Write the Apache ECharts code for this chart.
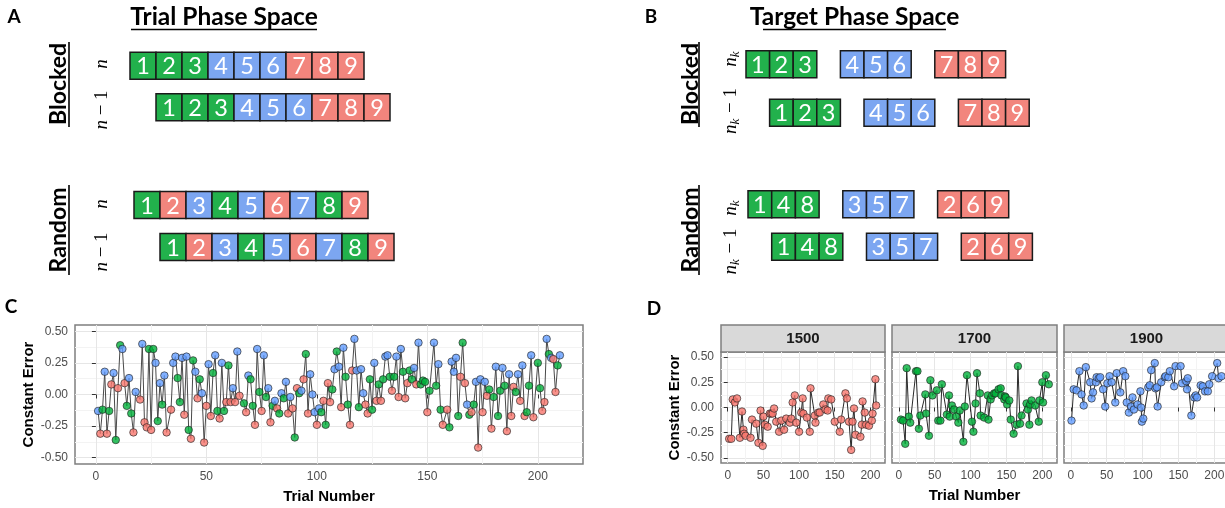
<!DOCTYPE html>
<html>
<head>
<meta charset="utf-8">
<script src="https://cdn.jsdelivr.net/npm/echarts@6.0.0/dist/echarts.min.js"></script>
<style>html,body{margin:0;padding:0;background:#fff;}#chart{width:1225px;height:508px;}</style>
</head>
<body>
<div id="chart"></div>
<script>
// ===== Data: panels A and B (phase-space schematics) =====
const trialBlockedNumbers = [1, 2, 3, 4, 5, 6, 7, 8, 9];
const trialBlockedTargets = ['G', 'G', 'G', 'B', 'B', 'B', 'R', 'R', 'R'];
const trialRandomNumbers = [1, 2, 3, 4, 5, 6, 7, 8, 9];
const trialRandomTargets = ['G', 'R', 'B', 'G', 'B', 'R', 'B', 'G', 'R'];
const targetGroupKeys = ['G', 'B', 'R'];
const targetBlockedGroups = [[1, 2, 3], [4, 5, 6], [7, 8, 9]];
const targetRandomGroups = [[1, 4, 8], [3, 5, 7], [2, 6, 9]];

// ===== Data: panels C and D (constant error per trial) =====
const trialNumber = [
  1, 2, 3, 4, 5, 6, 7, 8, 9, 10,
  11, 12, 13, 14, 15, 16, 17, 18, 20, 21,
  22, 23, 24, 25, 26, 27, 28, 29, 30, 31,
  32, 34, 35, 36, 37, 38, 39, 40, 41, 42,
  43, 44, 45, 46, 47, 48, 49, 50, 51, 52,
  53, 54, 55, 56, 57, 58, 59, 60, 61, 62,
  63, 64, 65, 67, 68, 69, 70, 71, 72, 73,
  74, 75, 76, 77, 78, 79, 80, 81, 82, 83,
  84, 85, 86, 87, 88, 89, 90, 91, 92, 93,
  94, 95, 96, 97, 98, 99, 100, 101, 102, 103,
  104, 105, 106, 107, 108, 109, 110, 111, 112, 113,
  114, 115, 116, 117, 118, 119, 120, 121, 122, 123,
  124, 125, 126, 127, 128, 129, 130, 131, 132, 133,
  134, 135, 136, 137, 138, 139, 140, 141, 142, 143,
  144, 145, 146, 147, 148, 149, 150, 151, 153, 154,
  155, 156, 157, 159, 160, 161, 162, 163, 164, 165,
  166, 167, 168, 169, 170, 171, 172, 173, 174, 175,
  176, 177, 178, 179, 180, 181, 182, 183, 184, 185,
  186, 187, 188, 189, 190, 191, 192, 193, 194, 195,
  196, 197, 198, 200, 201, 202, 203, 204, 205, 206,
  207, 208, 209, 210
];
const constantError = [
  -0.13, -0.31, -0.12, 0.18, -0.31, -0.13, 0.08, 0.17, -0.36, 0.05,
  0.39, 0.36, 0.09, -0.09, 0.13, -0.15, -0.30, 0.02, -0.04, 0.40,
  -0.22, -0.26, 0.36, -0.28, 0.36, 0.25, -0.21, 0.09, -0.08, 0.15,
  -0.30, -0.12, 0.25, 0.30, 0.13, -0.06, 0.29, -0.16, 0.30, -0.28,
  -0.35, 0.27, 0.18, -0.03, 0.12, 0.01, -0.38, -0.09, 0.24, -0.17,
  0.17, 0.31, -0.13, -0.19, 0.25, -0.13, -0.06, 0.23, -0.06, 0.05,
  -0.06, 0.34, -0.01, -0.07, -0.14, 0.15, 0.12, -0.09, -0.24, 0.36,
  0.02, -0.13, 0.31, -0.02, 0.05, -0.22, -0.09, -0.05, -0.11, -0.15,
  0.01, -0.03, 0.10, -0.15, -0.02, -0.11, -0.34, 0.05, 0.01, 0.03,
  0.12, 0.32, -0.15, 0.16, 0.00, -0.14, -0.24, -0.11, -0.14, -0.05,
  -0.24, 0.09, -0.06, 0.04, 0.20, 0.34, 0.22, -0.10, 0.37, 0.14,
  -0.08, -0.24, 0.19, 0.44, 0.19, -0.10, 0.20, 0.01, -0.08, -0.15,
  0.12, -0.12, 0.25, -0.05, 0.08, -0.05, 0.12, 0.30, 0.31, 0.14,
  0.03, 0.14, 0.30, -0.02, 0.36, 0.18, -0.03, 0.09, 0.19, 0.12,
  0.21, 0.08, 0.41, 0.08, 0.11, 0.10, -0.14, 0.03, 0.41, 0.07,
  0.24, -0.12, -0.24, -0.12, -0.26, 0.26, 0.18, 0.29, -0.17, 0.14,
  0.41, 0.09, -0.08, -0.16, -0.14, -0.08, 0.10, -0.42, 0.12, -0.14,
  0.10, -0.01, 0.04, -0.27, -0.02, 0.22, -0.17, 0.03, 0.21, 0.07,
  -0.29, 0.16, -0.17, 0.06, 0.02, 0.16, -0.05, 0.23, -0.17, -0.14,
  0.07, 0.31, -0.18, 0.25, 0.05, -0.13, -0.06, 0.44, 0.32, 0.29,
  0.28, 0.02, 0.23, 0.31
];
// target of each trial: R = 1500, G = 1700, B = 1900
const trialTarget = [
  'B','R','G','B','R','G','R','B','G','R',
  'G','B','R','G','B','G','R','B','R','B',
  'R','R','G','R','G','B','G','B','G','B',
  'R','R','B','B','G','G','B','R','B','G',
  'R','G','B','R','G','B','R','R','B','R',
  'G','B','G','R','B','G','R','G','R','B',
  'R','B','R','G','R','B','G','G','R','B',
  'G','R','B','G','B','R','G','B','R','G',
  'B','G','B','R','B','R','G','R','G','B',
  'R','G','R','B','B','B','R','B','G','R',
  'G','R','R','G','B','G','B','R','B','G',
  'G','R','R','B','B','G','B','B','R','R',
  'G','G','B','R','G','R','G','B','B','G',
  'R','G','B','R','B','G','R','R','G','G',
  'B','R','B','G','G','G','R','G','B','G',
  'B','G','R','R','G','B','B','B','G','R',
  'G','R','B','G','R','G','B','R','B','R',
  'B','R','G','R','G','B','G','G','B','G',
  'R','B','R','R','G','B','R','B','R','G',
  'G','B','R','G','G','R','R','B','G','B',
  'R','R','G','B'
];
const facetTargets = ['R', 'G', 'B'];
const facetLabels = ['1500', '1700', '1900'];
const yTickValues = [-0.5, -0.25, 0, 0.25, 0.5];
const yMinorValues = [-0.375, -0.125, 0.125, 0.375];
const xTickValues = [0, 50, 100, 150, 200];
const xMinorValues = [25, 75, 125, 175];

// ===== Styles / layout =====
const targetIndex = { G: 0, B: 1, R: 2 };
const boxColors = ['#22B14C', '#7CA6F1', '#F2857D'];
const pointColors = { G: '#00B03A', B: '#619CFF', R: '#F8766D' };
const SANS = 'Liberation Sans, Arial, sans-serif';
const X_RANGE = [-9.45, 220.45];
const Y_RANGE = [-0.55, 0.55];
const facetLayout = [
  { left: 721, width: 164 },
  { left: 892, width: 165 },
  { left: 1064, width: 165 }
];
const FACET_TOP = 352, FACET_H = 111, STRIP_TOP = 325, STRIP_H = 27;

function trialBoxes(numbers, targets) {
  const out = [];
  for (let r = 0; r < 2; r++) {
    numbers.forEach((n, i) => out.push([i + r, r, n, targetIndex[targets[i]]]));
  }
  return out;
}
function targetBoxes(groups) {
  const out = [];
  for (let r = 0; r < 2; r++) {
    groups.forEach((g, gi) => g.forEach((n, j) =>
      out.push([gi * 4 + j + r, r, n, targetIndex[targetGroupKeys[gi]]])));
  }
  return out;
}
function renderBox(params, api) {
  const x = api.value(0), row = api.value(1);
  const a = api.coord([x, row]);
  const b = api.coord([x + 1, row]);
  const h = 27;
  return {
    type: 'group',
    children: [
      { type: 'rect', shape: { x: a[0], y: a[1] - h / 2, width: b[0] - a[0], height: h },
        style: { fill: boxColors[api.value(3)], stroke: '#1a1a1a', lineWidth: 1.5 } },
      { type: 'text', style: { text: String(api.value(2)), x: (a[0] + b[0]) / 2, y: a[1] + 1,
        textAlign: 'center', textVerticalAlign: 'middle', fill: '#ffffff', font: '23.5px Lato' } }
    ]
  };
}

const grids = [
  { left: 130, top: 45, width: 260, height: 83 },
  { left: 134, top: 184, width: 260, height: 84 },
  { left: 746, top: 40, width: 283.2, height: 97 },
  { left: 748, top: 183, width: 284.4, height: 85 }
];
const panelBorder = { show: true, borderColor: '#7f7f7f', borderWidth: 1.5, backgroundColor: '#ffffff' };
grids.push(Object.assign({ left: 75, top: 325, width: 508, height: 139 }, panelBorder));
facetLayout.forEach(f => grids.push(Object.assign({ left: f.left, top: FACET_TOP, width: f.width, height: FACET_H }, panelBorder)));
grids.forEach(g => { g.outerBoundsMode = 'none'; g.containLabel = false; });

const xAxes = [], yAxes = [], series = [];
for (let g = 0; g < 4; g++) {
  xAxes.push({ type: 'value', gridIndex: g, min: 0, max: g < 2 ? 10 : 12, show: false });
  yAxes.push({ type: 'value', gridIndex: g, min: -0.5, max: 1.5, inverse: true, show: false });
}
const boxData = [
  trialBoxes(trialBlockedNumbers, trialBlockedTargets),
  trialBoxes(trialRandomNumbers, trialRandomTargets),
  targetBoxes(targetBlockedGroups),
  targetBoxes(targetRandomGroups)
];
boxData.forEach((d, g) => series.push({
  type: 'custom', xAxisIndex: g, yAxisIndex: g, data: d, renderItem: renderBox,
  silent: true, clip: false
}));

function addPlotAxes(g, opts) {
  const xi = xAxes.length, yi = yAxes.length;
  xAxes.push({
    type: 'value', gridIndex: g, min: X_RANGE[0], max: X_RANGE[1], position: 'bottom',
    axisLine: { show: false },
    axisTick: { show: true, customValues: xTickValues, length: 4, lineStyle: { color: '#333', width: 1 } },
    axisLabel: { show: true, customValues: xTickValues, color: '#4d4d4d', fontSize: 12, margin: 7, fontFamily: SANS },
    splitLine: { show: true, lineStyle: { color: '#e6e6e6', width: 1 } },
    name: opts.xName || '', nameLocation: 'middle', nameGap: 25,
    nameTextStyle: { fontFamily: SANS, fontWeight: 'bold', fontSize: 15, color: '#000' }
  });
  xAxes.push({
    type: 'value', gridIndex: g, min: X_RANGE[0], max: X_RANGE[1], position: 'top',
    axisLine: { show: false }, axisLabel: { show: false, customValues: xMinorValues },
    axisTick: { show: false, customValues: xMinorValues },
    splitLine: { show: true, lineStyle: { color: '#f3f3f3', width: 1 } }
  });
  yAxes.push({
    type: 'value', gridIndex: g, min: Y_RANGE[0], max: Y_RANGE[1], position: 'left',
    axisLine: { show: false },
    axisTick: { show: opts.yLabels, customValues: yTickValues, length: 4, lineStyle: { color: '#333', width: 1 } },
    axisLabel: { show: opts.yLabels, customValues: yTickValues, formatter: v => v.toFixed(2),
      color: '#4d4d4d', fontSize: 12, margin: 7, fontFamily: SANS },
    splitLine: { show: true, lineStyle: { color: '#e6e6e6', width: 1 } },
    name: opts.yName || '', nameLocation: 'middle', nameGap: 33,
    nameTextStyle: { fontFamily: SANS, fontWeight: 'bold', fontSize: 15, color: '#000' }
  });
  yAxes.push({
    type: 'value', gridIndex: g, min: Y_RANGE[0], max: Y_RANGE[1], position: 'right',
    axisLine: { show: false }, axisLabel: { show: false, customValues: yMinorValues },
    axisTick: { show: false, customValues: yMinorValues },
    splitLine: { show: true, lineStyle: { color: '#f3f3f3', width: 1 } }
  });
  return [xi, yi];
}

function addPointSeries(axes, idx, lineColor) {
  series.push({
    type: 'line', xAxisIndex: axes[0], yAxisIndex: axes[1], silent: true,
    data: idx.map(i => [trialNumber[i], constantError[i]]),
    showSymbol: false, symbol: 'none', lineStyle: { color: lineColor, width: 1 }, z: 2
  });
  series.push({
    type: 'scatter', xAxisIndex: axes[0], yAxisIndex: axes[1], silent: true,
    data: idx.map(i => ({ value: [trialNumber[i], constantError[i]],
      itemStyle: { color: pointColors[trialTarget[i]] } })),
    symbolSize: 7.5, itemStyle: { borderColor: '#222', borderWidth: 0.8 }, z: 3
  });
}

// Panel C
const allIdx = trialNumber.map((_, i) => i);
const cAxes = addPlotAxes(4, { yLabels: true, xName: 'Trial Number', yName: 'Constant Error' });
addPointSeries(cAxes, allIdx, '#4a4a4a');

// Panel D facets
facetTargets.forEach((tg, f) => {
  const ax = addPlotAxes(5 + f, { yLabels: f === 0, xName: f === 1 ? 'Trial Number' : '', yName: f === 0 ? 'Constant Error' : '' });
  addPointSeries(ax, allIdx.filter(i => trialTarget[i] === tg), '#2a2a2a');
});

// ===== Annotations =====
function txt(x, y, text, font, extra) {
  const e = { type: 'text', x: x, y: y, silent: true,
    style: { text: text, font: font, fill: '#000', textAlign: 'center', textVerticalAlign: 'middle' } };
  if (extra && extra.rotation) e.rotation = extra.rotation;
  if (extra && extra.rich) e.style.rich = extra.rich;
  if (extra && extra.fill) e.style.fill = extra.fill;
  return e;
}
function line(x1, y1, x2, y2, w) {
  return { type: 'line', silent: true, shape: { x1, y1, x2, y2 }, style: { stroke: '#000', lineWidth: w || 1.6 } };
}
const R90 = Math.PI / 2;
const mathRich = {
  n: { fontFamily: 'Liberation Serif', fontStyle: 'italic', fontSize: 19, color: '#000' },
  k: { fontFamily: 'Liberation Serif', fontStyle: 'italic', fontSize: 13, color: '#000', padding: [9, 1, 0, 0] },
  r: { fontFamily: 'Liberation Serif', fontSize: 19, color: '#000' }
};
const TITLE = 'bold 24.5px Lato';
const graphics = [
  txt(14, 17, 'A', 'bold 19px Lato'),
  txt(224, 17.5, 'Trial Phase Space', TITLE),
  line(131, 29.5, 317, 29.5),
  txt(651, 17, 'B', 'bold 19px Lato'),
  txt(854.5, 17.5, 'Target Phase Space', TITLE),
  line(763, 29.5, 946, 29.5),
  txt(58.4, 84, 'Blocked', 'bold 23px Lato', { rotation: R90 }),
  line(69, 42, 69, 127),
  txt(58.4, 230, 'Random', 'bold 23px Lato', { rotation: R90 }),
  line(69, 185, 69, 275),
  txt(690.4, 84, 'Blocked', 'bold 23px Lato', { rotation: R90 }),
  line(699, 42, 699, 127),
  txt(690.4, 230, 'Random', 'bold 23px Lato', { rotation: R90 }),
  line(699, 185, 699, 275),
  txt(102, 64, '{n|n}', '19px Liberation Serif', { rotation: R90, rich: mathRich }),
  txt(102, 110, '{n|n}{r| − 1}', '19px Liberation Serif', { rotation: R90, rich: mathRich }),
  txt(102, 204, '{n|n}', '19px Liberation Serif', { rotation: R90, rich: mathRich }),
  txt(102, 252, '{n|n}{r| − 1}', '19px Liberation Serif', { rotation: R90, rich: mathRich }),
  txt(731, 58.5, '{n|n}{k|k}', '19px Liberation Serif', { rotation: R90, rich: mathRich }),
  txt(731, 111, '{n|n}{k|k}{r| − 1}', '19px Liberation Serif', { rotation: R90, rich: mathRich }),
  txt(731, 207.5, '{n|n}{k|k}', '19px Liberation Serif', { rotation: R90, rich: mathRich }),
  txt(731, 251.5, '{n|n}{k|k}{r| − 1}', '19px Liberation Serif', { rotation: R90, rich: mathRich }),
  txt(11, 307, 'C', 'bold 19px Lato'),
  txt(654, 309, 'D', 'bold 19px Lato')
];
facetLayout.forEach((f, i) => {
  graphics.push({ type: 'rect', silent: true, shape: { x: f.left, y: STRIP_TOP, width: f.width, height: STRIP_H },
    style: { fill: '#d9d9d9', stroke: '#7f7f7f', lineWidth: 1.5 } });
  graphics.push(txt(f.left + f.width / 2, STRIP_TOP + STRIP_H / 2 + 0.5, facetLabels[i], 'bold 15px ' + SANS, { fill: '#1a1a1a' }));
});

const chart = echarts.init(document.getElementById('chart'), null, { renderer: 'canvas', width: 1225, height: 508 });
chart.setOption({
  animation: false,
  backgroundColor: '#ffffff',
  grid: grids,
  xAxis: xAxes,
  yAxis: yAxes,
  series: series,
  graphic: graphics
});
</script>
</body>
</html>
